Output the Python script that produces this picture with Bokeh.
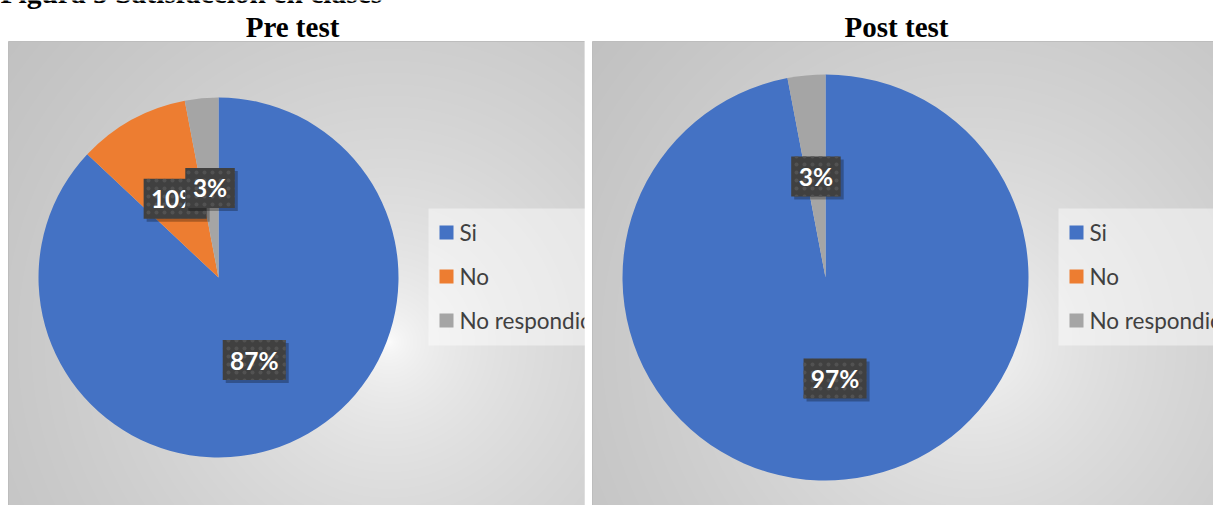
import numpy as np
from bokeh.plotting import figure
from bokeh.models import Range1d
from bokeh.core.properties import value
from bokeh.embed import file_html
from bokeh.resources import INLINE

# ---------------- data ----------------
caption = "Figura 5 Satisfacción en clases"
titles = ["Pre test", "Post test"]
categories = ["Si", "No", "No respondio"]
colors = ["#4472C4", "#ED7D31", "#A5A5A5"]
pre_values = [87, 10, 3]
post_values = [97, 0, 3]

# ---------------- layout ----------------
W, H = 1213, 505


def Y(py):
    return H - py


p = figure(width=W, height=H, x_range=Range1d(0, W), y_range=Range1d(0, H),
           output_backend="svg", toolbar_location=None, min_border=0)
p.axis.visible = False
p.grid.visible = False
p.outline_line_color = None
p.background_fill_color = "white"
p.border_fill_color = "white"


def gradient(w, h, gx, gy, a=2.8):
    xs = np.arange(w)
    ys = np.arange(h)[::-1]  # image row 0 is at the bottom
    X, Yg = np.meshgrid(xs, ys)
    d = np.sqrt((X - gx) ** 2 + (Yg - gy) ** 2)
    v = np.clip(255 - a * np.sqrt(d), 0, 255).astype(np.uint8)
    img = np.empty((h, w), dtype=np.uint32)
    view = img.view(dtype=np.uint8).reshape((h, w, 4))
    view[..., 0] = v
    view[..., 1] = v
    view[..., 2] = v
    view[..., 3] = 255
    return img


def panel(x0, x1, y0, y1, cx, cy, R, vals, leg_x):
    w, h = x1 - x0, y1 - y0
    p.image_rgba(image=[gradient(w, h, 380, 300)], x=x0, y=Y(y1), dw=w, dh=h)
    p.quad(left=x0, right=x1, top=Y(y0), bottom=Y(y1), fill_color=None,
           line_color="#bdbdbd", line_width=1)

    total = float(sum(vals))
    cum = 0.0
    mids = []
    for v, c in zip(vals, colors):
        f0, f1 = cum / total, (cum + v) / total
        cum += v
        mids.append((f0 + f1) / 2)
        if v <= 0:
            continue
        p.wedge(x=cx, y=Y(cy), radius=R,
                start_angle=np.pi / 2 - 2 * np.pi * f0,
                end_angle=np.pi / 2 - 2 * np.pi * f1,
                direction="clock", fill_color=c, line_color=None)

    # data labels
    for v, m in zip(vals, mids):
        if v <= 0:
            continue
        th = 2 * np.pi * m
        lx = cx + 0.5 * R * np.sin(th)
        ly = cy - 0.5 * R * np.cos(th)
        txt = f"{v}%"
        bw = 13.5 * (len(txt) - 1) + 20 + 16
        bh = 40
        p.quad(left=lx - bw / 2 + 3, right=lx + bw / 2 + 3,
               top=Y(ly - bh / 2 + 3), bottom=Y(ly + bh / 2 + 3),
               fill_color="black", fill_alpha=0.28, line_color=None)
        p.quad(left=lx - bw / 2, right=lx + bw / 2,
               top=Y(ly - bh / 2), bottom=Y(ly + bh / 2),
               fill_color="#404040", line_color=None,
               hatch_pattern="dot", hatch_color="#525252", hatch_scale=8,
               hatch_weight=1.5)
        p.text(x=[lx], y=[Y(ly)], text=[txt], text_color="white",
               text_font=value("Lato"), text_font_style="bold",
               text_font_size="24.5px", text_align="center",
               text_baseline="middle")

    # legend
    p.quad(left=leg_x, right=leg_x + 170, top=Y(208), bottom=Y(345),
           fill_color="white", fill_alpha=0.45, line_color=None)
    for i, (cat, c) in enumerate(zip(categories, colors)):
        yy = 232 + 44 * i
        p.quad(left=leg_x + 11, right=leg_x + 25, top=Y(yy - 7), bottom=Y(yy + 7),
               fill_color=c, line_color=None)
        p.text(x=[leg_x + 31], y=[Y(yy)], text=[cat], text_color="#404040",
               text_font=value("Lato"), text_font_size="22.5px",
               text_baseline="middle", text_align="left")


panel(8, 584, 41, 505, 218, 277, 180, pre_values, 428)
# white gap between panels (also clips the left legend text)
p.quad(left=584, right=592, top=Y(41), bottom=Y(505), fill_color="white", line_color=None)
panel(592, 1225, 41, 505, 825, 277, 203, post_values, 1058)

# titles
for t, tx in zip(titles, [292, 896]):
    p.text(x=[tx], y=[Y(26)], text=[t], text_color="black",
           text_font=value("Liberation Serif"), text_font_style="bold",
           text_font_size="29px", text_align="center", text_baseline="middle")

# figure caption, cut off at the top edge as in the source
p.text(x=[0], y=[Y(-8)], text=[caption], text_color="black",
       text_font=value("Liberation Serif"), text_font_style="bold",
       text_font_size="29.5px", text_align="left", text_baseline="middle")

open("out.html", "w").write(file_html(p, INLINE))
